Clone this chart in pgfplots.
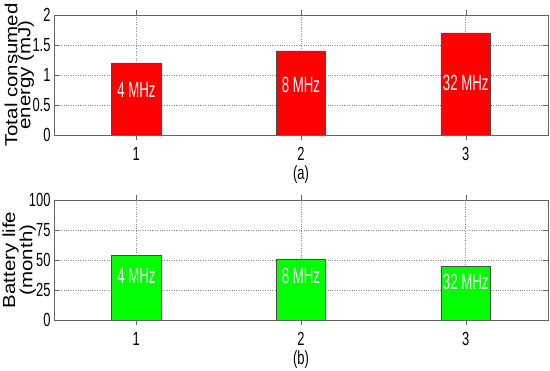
\documentclass[border=0pt]{standalone}
\usepackage{pgfplots}
\pgfplotsset{compat=1.18}
\usepackage{fontspec}
\setmainfont{Liberation Sans}
\newfontfamily\cond{Liberation Sans}[FakeStretch=0.68]
\newfontfamily\barf{Liberation Sans}[FakeStretch=0.6]
\newfontfamily\wide{Liberation Sans}[FakeStretch=1.17]
\definecolor{axgray}{RGB}{100,100,100}
\definecolor{gridgray}{RGB}{140,140,140}
\tikzset{lab/.style={white, font=\barf\fontsize{22pt}{22pt}\selectfont}}
\pgfplotsset{
  myax/.style={
    scale only axis, width=494pt, height=120pt,
    xmin=0.5, xmax=3.5,
    xtick={1,2,3},
    axis line style={axgray},
    tick style={axgray},
    tick align=inside,
    major tick length=5pt,
    grid=major,
    grid style={gridgray, dotted, line width=0.5pt},
    tick label style={font=\cond\fontsize{19pt}{20pt}\selectfont},
    /pgf/number format/assume math mode=true,
    xticklabel style={yshift=-4pt},
    xlabel style={font=\cond\fontsize{19pt}{20pt}\selectfont, yshift=2pt},
    y label style={at={(axis description cs:-0.04,0.5)}, anchor=south, align=center, inner sep=0pt,
      font=\wide\fontsize{17.5pt}{13pt}\selectfont},
    ybar, bar width=0.3,
  },
}
\begin{document}
\begin{tikzpicture}
\path[use as bounding box] (0,0) rectangle (550pt,-371pt);
\begin{axis}[myax, at={(54pt,-135pt)}, anchor=south west,
  ymin=0, ymax=2, ytick={0,0.5,1,1.5,2},
  yticklabels={0,0.5,1,1.5,2},
  xlabel={(a)},
  ylabel={Total consumed\\energy (mJ)}]
\addplot[fill=red, draw=black!70, line width=0.5pt] coordinates {(1,1.2) (2,1.4) (3,1.7)};
\node[lab] at (axis cs:1,0.75) {4 MHz};
\node[lab] at (axis cs:2,0.83) {8 MHz};
\node[lab] at (axis cs:3,0.87) {32 MHz};
\end{axis}
\begin{axis}[myax, at={(54pt,-320pt)}, anchor=south west,
  ymin=0, ymax=100, ytick={0,25,50,75,100},
  xlabel={(b)},
  y label style={at={(axis description cs:-0.036,0.5)}},
  ylabel={Battery life\\(month)}]
\addplot[fill=green, draw=black!70, line width=0.5pt] coordinates {(1,54) (2,51) (3,44.5)};
\node[lab] at (axis cs:1,37) {4 MHz};
\node[lab] at (axis cs:2,37) {8 MHz};
\node[lab] at (axis cs:3,32) {32 MHz};
\end{axis}
\end{tikzpicture}
\end{document}
